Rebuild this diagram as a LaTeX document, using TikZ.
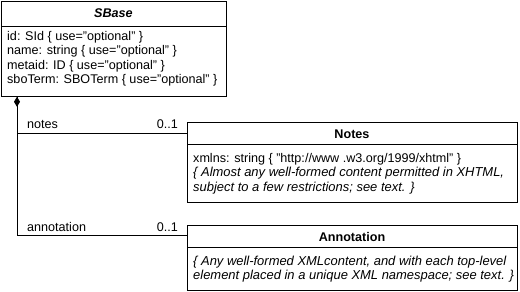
\documentclass[tikz,border=0pt]{standalone}
\usepackage{fontspec}
\setmainfont{Liberation Sans}
\usetikzlibrary{arrows.meta,calc}
\begin{document}
\begin{tikzpicture}[x=1pt,y=-1pt,
  cls/.style={draw,line width=0.8pt,anchor=north west,inner sep=0pt},
  txt/.style={anchor=west,inner sep=0pt,font=\fontsize{12.6}{14.5}\selectfont},
  itx/.style={anchor=west,inner sep=0pt,font=\fontsize{12.95}{14.5}\selectfont\itshape},
  ttl/.style={inner sep=0pt,font=\fontsize{12.6}{14.5}\selectfont\bfseries},
  lbl/.style={anchor=base west,inner sep=0pt,font=\fontsize{12.6}{14.5}\selectfont},
  conn/.style={line width=0.8pt}]
\useasboundingbox (0,0) rectangle (520,292);
% SBase
\node[cls,minimum width=225pt,minimum height=95pt] (sbase) at (1,1) {};
\draw[conn] ($(sbase.north west)+(0,25)$) -- ($(sbase.north east)+(0,25)$);
\node[ttl,font=\fontsize{12.6}{14.5}\selectfont\bfseries\itshape] (sbaset) at (113.5,13.5) {SBase};
\node[txt] (a1) at (7,37) {id: SId \{ use="optional" \}};
\node[txt] (a2) at (7,51.5) {name: string \{ use="optional" \}};
\node[txt] (a3) at (7,66) {metaid: ID \{ use="optional" \}};
\node[txt] (a4) at (7,80.5) {sboTerm: SBOTerm \{ use="optional" \}};
% Notes
\node[cls,minimum width=330pt,minimum height=80pt] (notes) at (187,122) {};
\draw[conn] ($(notes.north west)+(0,22)$) -- ($(notes.north east)+(0,22)$);
\node[ttl] (notest) at (352,134) {Notes};
\node[txt] (n1) at (193,159) {xmlns: string \{ "http://www .w3.org/1999/xhtml" \}};
\node[itx] (n2) at (193,173.5) {\{ Almost any well-formed content permitted in XHTML,};
\node[itx] (n3) at (193,188) {subject to a few restrictions; see text. \}};
% Annotation
\node[cls,minimum width=330pt,minimum height=65pt] (annot) at (187,225) {};
\draw[conn] ($(annot.north west)+(0,22)$) -- ($(annot.north east)+(0,22)$);
\node[ttl] (annott) at (352,237) {Annotation};
\node[itx] (m1) at (193,262) {\{ Any well-formed XMLcontent, and with each top-level};
\node[itx] (m2) at (193,276.5) {element placed in a unique XML namespace; see text. \}};
% connectors
\coordinate (d) at ($(sbase.south west)+(16,0)$);
\draw[conn,{Diamond[width=6pt,length=10pt]}-] (d) |- ($(notes.north west)+(0,11)$);
\draw[conn] (d) |- ($(annot.north west)+(0,10)$);
\node[lbl] (l1) at (27,128) {notes};
\node[lbl,anchor=base east] (c1) at (178,128) {0..1};
\node[lbl] (l2) at (27,231) {annotation};
\node[lbl,anchor=base east] (c2) at (178,231) {0..1};
\end{tikzpicture}
\end{document}
